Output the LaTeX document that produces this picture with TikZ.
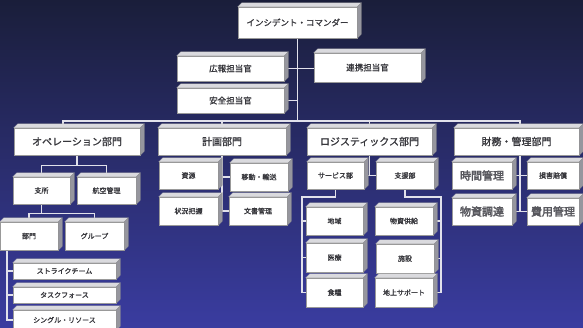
\documentclass[tikz,border=0pt]{standalone}
\usepackage{fontspec}
\newfontfamily\jp[AutoFakeBold=1.2]{Noto Sans CJK JP}
\newfontfamily\jpb[FakeBold=3]{Noto Sans CJK JP}
\usetikzlibrary{calc}
\pgfdeclarelayer{bg}
\pgfsetlayers{bg,main}
\definecolor{bgtop}{RGB}{26,30,58}
\definecolor{bgmid}{RGB}{46,50,128}
\definecolor{bgbot}{RGB}{58,60,160}
\definecolor{topface}{RGB}{218,218,222}
\definecolor{sideface}{RGB}{150,150,158}
\definecolor{txt}{RGB}{55,55,60}
\definecolor{txtl}{RGB}{88,88,94}
\definecolor{linec}{RGB}{225,225,235}
\tikzset{
  box/.style={draw=black!40, line width=0.5pt, fill=white, inner sep=0pt, text=txt,
    font=\jp\bfseries\fontsize{7}{8}\selectfont},
  big/.style={font=\jp\bfseries\fontsize{10}{12}\selectfont},
  mid/.style={font=\jp\bfseries\fontsize{8.5}{10}\selectfont},
  fin/.style={font=\jpb\fontsize{11}{13}\selectfont, text=txtl},
  conn/.style={draw=linec, line width=1.1pt},
}
\newcommand\cube[1]{%
  \fill[topface, draw=black!35, line width=0.3pt] (#1.north west) -- ++(4,-4) -- ([shift={(4,-4)}]#1.north east) -- (#1.north east) -- cycle;
  \fill[sideface, draw=black!45, line width=0.3pt] (#1.north east) -- ++(4,-4) -- ([shift={(4,-4)}]#1.south east) -- (#1.south east) -- cycle;}
\newcommand\bx[7][]{%
  \node[box,#1,minimum width={#5-#3},minimum height={#6-#4}] (#2) at ({(#3+#5)/2},{(#4+#6)/2}) {#7};\cube{#2}}
\begin{document}
\begin{tikzpicture}[x=1pt,y=-1pt]
\useasboundingbox (0,0) rectangle (583,327);
% top
\bx[mid]{ic}{238}{7}{357}{38}{インシデント・コマンダー}
\bx[mid]{koho}{177}{56}{284}{81}{広報担当官}
\bx[mid]{renkei}{314}{53}{421}{82}{連携担当官}
\bx[mid]{anzen}{177}{88}{284}{113}{安全担当官}
% level 2
\bx[big]{ops}{14}{128}{140}{155}{オペレーション部門}
\bx[big]{plan}{158}{128}{286}{155}{計画部門}
\bx[big]{logi}{307}{128}{432}{155}{ロジスティックス部門}
\bx[big]{fin}{454}{128}{579}{155}{財務・管理部門}
% operations
\bx{shisho}{13}{177}{70}{204}{支所}
\bx{koku}{77}{177}{136}{204}{航空管理}
\bx{bumon}{0}{222}{58}{250}{部門}
\bx{group}{65}{222}{124}{250}{グループ}
\bx{strike}{13}{263}{116}{279}{ストライクチーム}
\bx{task}{13}{287}{116}{303}{タスクフォース}
\bx{single}{13}{310}{116}{330}{シングル・リソース}
% planning
\bx{shigen}{159}{162}{218}{189}{資源}
\bx{ido}{230}{163}{288}{191}{移動・輸送}
\bx{jokyo}{159}{197}{218}{225}{状況把握}
\bx{bunsho}{229}{197}{287}{225}{文書管理}
% logistics
\bx{service}{307}{162}{364}{189}{サービス部}
\bx{shien}{376}{162}{434}{189}{支援部}
\bx{chiiki}{306}{207}{363}{235}{地域}
\bx{iryo}{306}{243}{363}{272}{医療}
\bx{shokuryo}{306}{278}{363}{307}{食糧}
\bx{busshi}{375}{207}{433}{235}{物資供給}
\bx{shisetsu}{376}{244}{434}{273}{施設}
\bx{chijo}{375}{278}{433}{307}{地上サポート}
% finance
\bx[fin]{jikan}{452}{162}{512}{189}{時間管理}
\bx{songai}{527}{162}{579}{189}{損害賠償}
\bx[fin]{chotatsu}{452}{198}{512}{225}{物資調達}
\bx[fin]{hiyo}{527}{198}{579}{225}{費用管理}

\begin{pgfonlayer}{bg}
\shade[top color=bgtop, middle color=bgmid, bottom color=bgbot] (0,0) rectangle (583,327);
\coordinate (busL) at (63,121);
\coordinate (busR) at (520,121);
% top connectors
\draw[conn] (ic.south) -- (ic.south |- busL);
\draw[conn] (koho.east) -- (koho.east -| renkei.west);
\draw[conn] (anzen.east) -- (anzen.east -| ic.south);
\draw[conn] (ops.north -| busL) -- (busL) -- (busR) -- (fin.north -| busR);
\draw[conn] (plan.north) -- (plan.north |- busL);
\draw[conn] (logi.north) -- (logi.north |- busL);
% operations
\draw[conn] (ops.south) -- ++(0,10) coordinate (ob);
\draw[conn] (shisho.north) |- (ob) -| (koku.north);
\draw[conn] (shisho.south) -- ++(0,9) coordinate (sb);
\draw[conn] (bumon.north) |- (sb) -| (group.north);
\coordinate (bl) at (7,250);
\draw[conn] (bl) |- (single.west);
\draw[conn] (bl |- strike.west) -- (strike.west);
\draw[conn] (bl |- task.west) -- (task.west);
% planning
\draw[conn] (plan.south) -- ++(0,57) coordinate (pb);
\draw[conn] (shigen.east) -- (shigen.east -| pb);
\draw[conn] (ido.west) -- (ido.west -| pb);
\draw[conn] (jokyo.east) -- (jokyo.east -| pb);
\draw[conn] (bunsho.west) -- (bunsho.west -| pb);
% logistics
\draw[conn] (logi.south) -- (logi.south |- service.east);
\draw[conn] (service.east) -- (shien.west);
\coordinate (sv) at (302,197);
\draw[conn] (service.south) |- (sv) |- (shokuryo.west);
\draw[conn] (sv |- chiiki.west) -- (chiiki.west);
\draw[conn] (sv |- iryo.west) -- (iryo.west);
\coordinate (sp) at (441,197);
\draw[conn] (shien.south) |- (sp) |- (chijo.east);
\draw[conn] (sp |- busshi.east) -- (busshi.east);
\draw[conn] (sp |- shisetsu.east) -- (shisetsu.east);
% finance
\draw[conn] (fin.south -| busR) -- (busR |- chotatsu.east);
\draw[conn] (jikan.east) -- (songai.west);
\draw[conn] (chotatsu.east) -- (hiyo.west);
\end{pgfonlayer}
\end{tikzpicture}
\end{document}
